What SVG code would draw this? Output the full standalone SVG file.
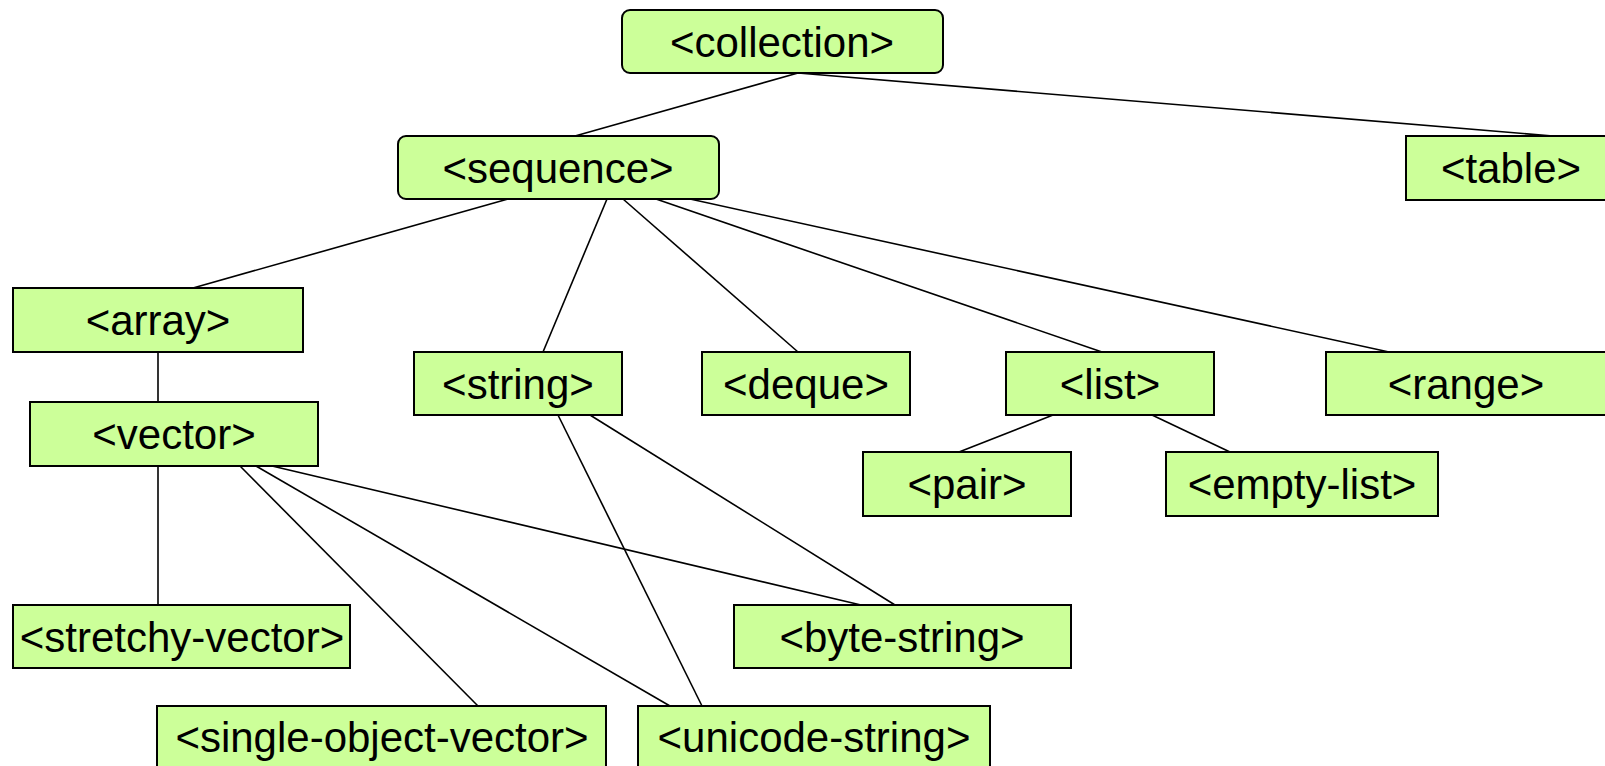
<svg xmlns="http://www.w3.org/2000/svg" width="1605" height="766" viewBox="0 0 1605 766">
<style>
.n rect{fill:#CCFF99;stroke:#000;stroke-width:2}
.n text{font-family:"Liberation Sans",Arial,sans-serif;font-size:42px;fill:#000;text-anchor:middle}
#edges line{stroke:#000;stroke-width:1.6}
</style>
<rect width="1605" height="766" fill="#fff"/>
<g id="edges">
<line x1="798" y1="73" x2="575" y2="136"/>
<line x1="798" y1="73" x2="1553" y2="136"/>
<line x1="508" y1="199" x2="193" y2="288"/>
<line x1="607" y1="199" x2="543" y2="352"/>
<line x1="623" y1="199" x2="798" y2="352"/>
<line x1="656" y1="199" x2="1102" y2="352"/>
<line x1="690" y1="199" x2="1389" y2="352"/>
<line x1="158" y1="352" x2="158" y2="402"/>
<line x1="158" y1="466" x2="158" y2="605"/>
<line x1="240" y1="466" x2="478" y2="706"/>
<line x1="256" y1="466" x2="670" y2="706"/>
<line x1="272" y1="466" x2="861" y2="605"/>
<line x1="590" y1="415" x2="895" y2="605"/>
<line x1="558" y1="415" x2="702" y2="706"/>
<line x1="1053" y1="415" x2="959" y2="452"/>
<line x1="1152" y1="415" x2="1230" y2="452"/>
</g>
<g id="collection" class="n"><rect x="622" y="10" width="321" height="63" rx="8"/><text x="782" y="57">&lt;collection&gt;</text></g>
<g id="sequence" class="n"><rect x="398" y="136" width="321" height="63" rx="8"/><text x="558" y="183">&lt;sequence&gt;</text></g>
<g id="table" class="n"><rect x="1406" y="136" width="210" height="64"/><text x="1511" y="183">&lt;table&gt;</text></g>
<g id="array" class="n"><rect x="13" y="288" width="290" height="64"/><text x="158" y="335">&lt;array&gt;</text></g>
<g id="vector" class="n"><rect x="30" y="402" width="288" height="64"/><text x="174" y="449">&lt;vector&gt;</text></g>
<g id="string" class="n"><rect x="414" y="352" width="208" height="63"/><text x="518" y="399">&lt;string&gt;</text></g>
<g id="deque" class="n"><rect x="702" y="352" width="208" height="63"/><text x="806" y="399">&lt;deque&gt;</text></g>
<g id="list" class="n"><rect x="1006" y="352" width="208" height="63"/><text x="1110" y="399">&lt;list&gt;</text></g>
<g id="range" class="n"><rect x="1326" y="352" width="290" height="63"/><text x="1466" y="399">&lt;range&gt;</text></g>
<g id="pair" class="n"><rect x="863" y="452" width="208" height="64"/><text x="967" y="499">&lt;pair&gt;</text></g>
<g id="empty-list" class="n"><rect x="1166" y="452" width="272" height="64"/><text x="1302" y="499">&lt;empty-list&gt;</text></g>
<g id="stretchy-vector" class="n"><rect x="13" y="605" width="337" height="63"/><text x="182" y="652">&lt;stretchy-vector&gt;</text></g>
<g id="byte-string" class="n"><rect x="734" y="605" width="337" height="63"/><text x="902" y="652">&lt;byte-string&gt;</text></g>
<g id="single-object-vector" class="n"><rect x="157" y="706" width="449" height="64"/><text x="382" y="752">&lt;single-object-vector&gt;</text></g>
<g id="unicode-string" class="n"><rect x="638" y="706" width="352" height="64"/><text x="814" y="752">&lt;unicode-string&gt;</text></g>
</svg>
